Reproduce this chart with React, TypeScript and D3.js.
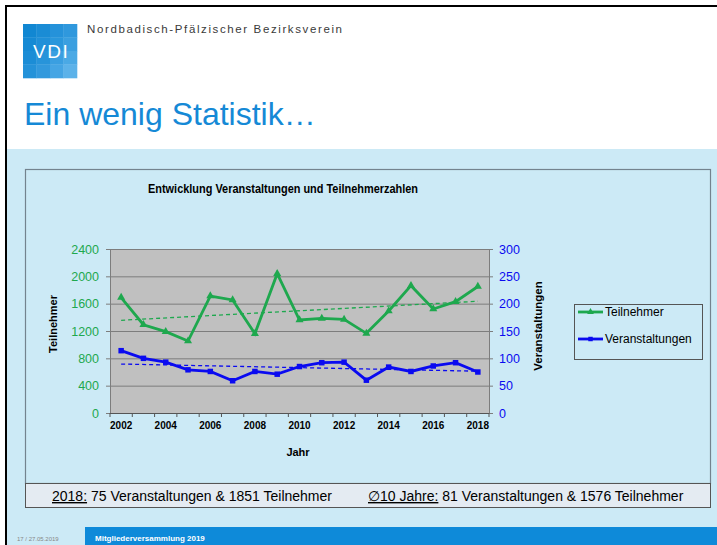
import { useEffect, useRef } from 'react'
import * as d3 from 'd3'

const years = [2002, 2003, 2004, 2005, 2006, 2007, 2008, 2009, 2010, 2011, 2012, 2013, 2014, 2015, 2016, 2017, 2018]
const teilnehmer = [1690, 1292, 1190, 1053, 1712, 1654, 1161, 2039, 1361, 1385, 1370, 1166, 1492, 1863, 1522, 1629, 1851]
const veranstaltungen = [114, 100, 93, 79, 76, 59, 76, 71, 85, 92, 93, 60, 84, 76, 86, 92, 75]
const leftTicks = [0, 400, 800, 1200, 1600, 2000, 2400]
const rightTicks = [0, 50, 100, 150, 200, 250, 300]
const yearLabels = [2002, 2004, 2006, 2008, 2010, 2012, 2014, 2016, 2018]

const GREEN = '#1ea84e'
const BLUE = '#0a0af0'
const BG = '#cceaf6'
const FONT = 'Arial, "Liberation Sans", sans-serif'

// logo mosaic shades
const logoShades = [
  ['#1187d2', '#1a8cd5', '#2592da', '#2f98dd'],
  ['#168ad4', '#2090d8', '#2a97dc', '#3a9fe0'],
  ['#1b8dd6', '#2794da', '#3a9fe1', '#4aa9e5'],
  ['#2492d9', '#3299dd', '#45a5e4', '#5cb2e9'],
]

function linReg(vals: number[]) {
  const n = vals.length
  const mx = (n - 1) / 2
  const my = d3.mean(vals)!
  let num = 0, den = 0
  vals.forEach((v, i) => { num += (i - mx) * (v - my); den += (i - mx) ** 2 })
  const b = num / den
  return [my - b * mx, my + b * (n - 1 - mx)]
}

export default function App() {
  const ref = useRef<SVGSVGElement>(null)

  useEffect(() => {
    if (!ref.current) return
    const svg = d3.select(ref.current)
    svg.selectAll('*').remove()

    // page frame
    svg.append('rect').attr('width', 717).attr('height', 545).attr('fill', '#fff')
    svg.append('rect').attr('x', 5).attr('y', 149).attr('width', 712).attr('height', 396).attr('fill', BG)
    svg.append('rect').attr('x', 5).attr('y', 5).attr('width', 712).attr('height', 2).attr('fill', '#000')
    svg.append('rect').attr('x', 5).attr('y', 5).attr('width', 2).attr('height', 540).attr('fill', '#000')

    // logo
    const cell = 54 / 4
    logoShades.forEach((row, r) => row.forEach((c, k) => {
      svg.append('rect').attr('x', 23 + k * cell).attr('y', 24 + r * cell)
        .attr('width', cell + 0.3).attr('height', cell + 0.3).attr('fill', c)
    }))
    svg.append('text').attr('x', 33).attr('y', 58).attr('fill', '#fff')
      .attr('font-family', FONT).attr('font-size', 19).attr('letter-spacing', 1.5).text('VDI')
    svg.append('text').attr('x', 87).attr('y', 33).attr('fill', '#3a3a3a')
      .attr('font-family', FONT).attr('font-size', 11.5)
      .attr('textLength', 255).attr('lengthAdjust', 'spacing')
      .text('Nordbadisch-Pfälzischer Bezirksverein')

    svg.append('text').attr('x', 24).attr('y', 125).attr('fill', '#1589d6')
      .attr('font-family', FONT).attr('font-size', 32).text('Ein wenig Statistik…')

    // chart frame
    svg.append('rect').attr('x', 25.5).attr('y', 169.5).attr('width', 685).attr('height', 314)
      .attr('fill', BG).attr('stroke', '#73838e').attr('stroke-width', 1.2)

    svg.append('text').attr('x', 283).attr('y', 193).attr('text-anchor', 'middle')
      .attr('font-family', FONT).attr('font-size', 13).attr('font-weight', 'bold')
      .attr('textLength', 270).attr('lengthAdjust', 'spacingAndGlyphs')
      .text('Entwicklung Veranstaltungen und Teilnehmerzahlen')

    const left = 110, right = 489, top = 249, bottom = 413
    const x = d3.scaleBand<number>().domain(years).range([left, right])
    const cx = (yr: number) => x(yr)! + x.bandwidth() / 2
    const yL = d3.scaleLinear().domain([0, 2400]).range([bottom, top])
    const yR = d3.scaleLinear().domain([0, 300]).range([bottom, top])

    svg.append('rect').attr('x', left).attr('y', top).attr('width', right - left).attr('height', bottom - top)
      .attr('fill', '#c0c0c0')

    // gridlines
    leftTicks.forEach(t => {
      svg.append('line').attr('x1', left).attr('x2', right).attr('y1', yL(t) + 0.5).attr('y2', yL(t) + 0.5)
        .attr('stroke', '#7d7d7d').attr('stroke-width', 1)
    })

    // left axis
    const la = svg.append('g').attr('transform', `translate(${left},0)`)
      .call(d3.axisLeft(yL).tickValues(leftTicks).tickFormat(d3.format('d')).tickSize(4).tickPadding(7))
    la.selectAll('text').attr('fill', GREEN).attr('font-size', 12.5).attr('font-family', FONT)
    la.selectAll('.domain, .tick line').attr('stroke', '#7d7d7d')

    // right axis
    const ra = svg.append('g').attr('transform', `translate(${right},0)`)
      .call(d3.axisRight(yR).tickValues(rightTicks).tickFormat(d3.format('d')).tickSize(4).tickPadding(6))
    ra.selectAll('text').attr('fill', BLUE).attr('font-size', 12.5).attr('font-family', FONT)
    ra.selectAll('.domain, .tick line').attr('stroke', '#7d7d7d')

    // x axis with ticks between categories
    svg.append('line').attr('x1', left).attr('x2', right).attr('y1', bottom + 0.5).attr('y2', bottom + 0.5)
      .attr('stroke', '#555')
    d3.range(years.length + 1).forEach(i => {
      const xx = left + i * x.step()
      svg.append('line').attr('x1', xx).attr('x2', xx).attr('y1', bottom).attr('y2', bottom + 4).attr('stroke', '#555')
    })
    yearLabels.forEach(yr => {
      svg.append('text').attr('x', cx(yr)).attr('y', 429).attr('text-anchor', 'middle')
        .attr('font-family', FONT).attr('font-size', 10).attr('font-weight', 'bold').text(yr)
    })

    // axis titles
    svg.append('text').attr('transform', 'translate(57,324) rotate(-90)').attr('text-anchor', 'middle')
      .attr('font-family', FONT).attr('font-size', 11).attr('font-weight', 'bold').text('Teilnehmer')
    svg.append('text').attr('transform', 'translate(542,326) rotate(-90)').attr('text-anchor', 'middle')
      .attr('font-family', FONT).attr('font-size', 11.5).attr('font-weight', 'bold').text('Veranstaltungen')
    svg.append('text').attr('x', 298).attr('y', 456).attr('text-anchor', 'middle')
      .attr('font-family', FONT).attr('font-size', 11).attr('font-weight', 'bold').text('Jahr')

    // trend lines
    const tg = linReg(teilnehmer)
    svg.append('line').attr('x1', cx(years[0])).attr('x2', cx(years[years.length - 1]))
      .attr('y1', yL(tg[0])).attr('y2', yL(tg[1]))
      .attr('stroke', GREEN).attr('stroke-width', 1.3).attr('stroke-dasharray', '4,3')
    const tb = linReg(veranstaltungen)
    svg.append('line').attr('x1', cx(years[0])).attr('x2', cx(years[years.length - 1]))
      .attr('y1', yR(tb[0])).attr('y2', yR(tb[1]))
      .attr('stroke', BLUE).attr('stroke-width', 1.3).attr('stroke-dasharray', '4,3')

    // series
    const lineL = d3.line<number>().x((_, i) => cx(years[i])).y(d => yL(d))
    const lineR = d3.line<number>().x((_, i) => cx(years[i])).y(d => yR(d))
    svg.append('path').attr('d', lineL(teilnehmer)).attr('fill', 'none')
      .attr('stroke', GREEN).attr('stroke-width', 2.8).attr('stroke-linejoin', 'miter')
    svg.append('path').attr('d', lineR(veranstaltungen)).attr('fill', 'none')
      .attr('stroke', BLUE).attr('stroke-width', 2.8)

    const tri = d3.symbol().type(d3.symbolTriangle).size(28)
    const sq = d3.symbol().type(d3.symbolSquare).size(30)
    teilnehmer.forEach((v, i) => {
      svg.append('path').attr('d', tri()).attr('transform', `translate(${cx(years[i])},${yL(v)})`).attr('fill', GREEN)
    })
    veranstaltungen.forEach((v, i) => {
      svg.append('path').attr('d', sq()).attr('transform', `translate(${cx(years[i])},${yR(v)})`).attr('fill', BLUE)
    })

    // legend
    svg.append('rect').attr('x', 574.5).attr('y', 304.5).attr('width', 128).attr('height', 55)
      .attr('fill', BG).attr('stroke', '#555')
    const leg = [
      { label: 'Teilnehmer', color: GREEN, y: 312, sym: tri },
      { label: 'Veranstaltungen', color: BLUE, y: 339, sym: sq },
    ]
    leg.forEach(l => {
      svg.append('line').attr('x1', 578).attr('x2', 603).attr('y1', l.y).attr('y2', l.y)
        .attr('stroke', l.color).attr('stroke-width', 2.8)
      svg.append('path').attr('d', l.sym.size(20)()).attr('transform', `translate(590.5,${l.y})`).attr('fill', l.color)
      svg.append('text').attr('x', 605).attr('y', l.y + 4).attr('font-family', FONT).attr('font-size', 12)
        .text(l.label)
    })

    // summary box
    svg.append('rect').attr('x', 25.5).attr('y', 483.5).attr('width', 685).attr('height', 24)
      .attr('fill', '#e4ebf2').attr('stroke', '#555')
    const s1 = svg.append('text').attr('x', 52).attr('y', 501).attr('font-family', FONT).attr('font-size', 14)
    s1.append('tspan').attr('text-decoration', 'underline').text('2018:')
    s1.append('tspan').text(' 75 Veranstaltungen & 1851 Teilnehmer')
    const s2 = svg.append('text').attr('x', 368).attr('y', 501).attr('font-family', FONT).attr('font-size', 14)
    s2.append('tspan').attr('text-decoration', 'underline').text('∅10 Jahre:')
    s2.append('tspan').text(' 81 Veranstaltungen & 1576 Teilnehmer')

    // footer
    svg.append('rect').attr('x', 85).attr('y', 527).attr('width', 632).attr('height', 18).attr('fill', '#0e8ad9')
    svg.append('text').attr('x', 95).attr('y', 541).attr('fill', '#fff').attr('font-family', FONT)
      .attr('font-size', 8).attr('font-weight', 'bold').text('Mitgliederversammlung 2019')
    svg.append('text').attr('x', 17).attr('y', 541).attr('fill', '#888').attr('font-family', FONT)
      .attr('font-size', 6).text('17 /   27.05.2019')
  }, [])

  return (
    <div style={{ position: 'absolute', left: 0, top: 0 }}>
      <svg ref={ref} width={717} height={545} style={{ display: 'block' }} />
    </div>
  )
}
